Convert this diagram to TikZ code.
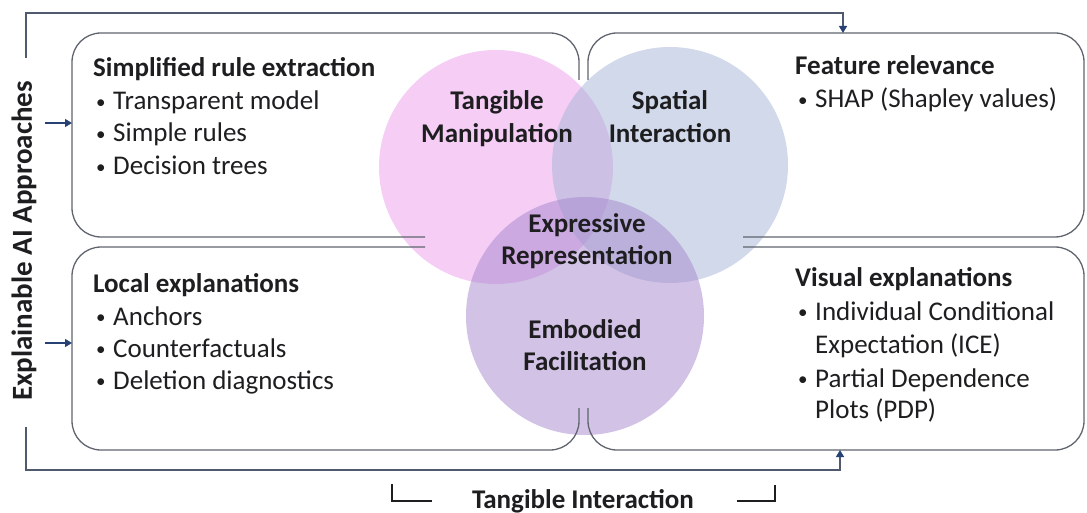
\documentclass[tikz,border=0pt]{standalone}
\usepackage{fontspec}
\setmainfont{Carlito}
\usetikzlibrary{arrows.meta}
\definecolor{ink}{RGB}{30,30,32}
\definecolor{boxgray}{RGB}{95,100,110}
\definecolor{conngray}{RGB}{80,90,110}
\definecolor{navy}{RGB}{40,65,115}
\definecolor{pinkc}{RGB}{235,155,235}
\definecolor{bluec}{RGB}{165,180,215}
\definecolor{purpc}{RGB}{165,135,205}
\newcommand{\blt}{\raisebox{1.5pt}{\fontsize{19}{19}\selectfont •}}
\tikzset{
  txt/.style={anchor=base west, inner sep=0pt, text=ink, font=\fontsize{27}{30}\selectfont},
  head/.style={txt, font=\fontsize{27}{30}\selectfont\bfseries},
  ctext/.style={anchor=base, inner sep=0pt, text=ink, font=\fontsize{27}{30}\selectfont\bfseries},
  boxln/.style={draw=boxgray, line width=1.3pt, rounded corners=29pt},
  connln/.style={draw=conngray, line width=1.5pt},
  tip/.style={-{Triangle[width=8pt,length=7pt,color=navy]}},
  venn/.style={circle, inner sep=0pt, draw=none, fill opacity=0.5},
}
\begin{document}
\begin{tikzpicture}[x=1pt,y=-1pt]
\useasboundingbox (0,0) rectangle (1087,513);

% Venn circles
\node[venn, fill=pinkc, minimum size=234pt] (tm) at (496,167) {};
\node[venn, fill=bluec, minimum size=236pt] (si) at (670,165) {};
\node[venn, fill=purpc, minimum size=238pt] (ef) at (585,316) {};

% boxes (visible parts)
\draw[boxln] (425,237) -| (72,33) -| (579,80);
\draw[boxln] (588,80) |- (1084,33) |- (743,237);
\draw[boxln] (425,247) -| (72,450) -| (579,408);
\draw[boxln] (588,408) |- (1084,450) |- (743,247);

% connectors
\coordinate (ltop) at (26,58);
\coordinate (trin) at (843,33);
\draw[connln, tip] (ltop) |- (843,13) -- (trin);
\coordinate (lbot) at (26,427);
\coordinate (brin) at (840,450);
\draw[connln, tip] (lbot) |- (840,470) -- (brin);
\coordinate (a1s) at (45,123);
\coordinate (a1e) at (72,123);
\draw[draw=navy, line width=1.3pt, tip] (a1s) -- (a1e);
\coordinate (a2s) at (45,343);
\coordinate (a2e) at (72,343);
\draw[draw=navy, line width=1.3pt, tip] (a2s) -- (a2e);

% bracket
\coordinate (bl1) at (392,484);
\coordinate (bl2) at (432,501);
\coordinate (br1) at (737,501);
\coordinate (br2) at (775,485);
\draw[draw=ink, line width=1.4pt] (bl1) |- (bl2);
\draw[draw=ink, line width=1.4pt] (br1) -| (br2);
\node[ctext] (ti) at (583,508) {Tangible Interaction};

% side label
\node[anchor=center, rotate=90, inner sep=0pt, text=ink, font=\fontsize{29}{30}\selectfont\bfseries] (xai) at (24,241) {Explainable AI Approaches};

% circle labels
\node[ctext] (c1a) at (497,110) {Tangible};
\node[ctext] (c1b) at (497,143) {Manipulation};
\node[ctext] (c2a) at (670,110) {Spatial};
\node[ctext] (c2b) at (670,143) {Interaction};
\node[ctext] (c3a) at (587,233) {Expressive};
\node[ctext] (c3b) at (587,265) {Representation};
\node[ctext] (c4a) at (585,338) {Embodied};
\node[ctext] (c4b) at (585,370) {Facilitation};

% top-left box
\node[head] (h1) at (93,77) {Simplified rule extraction};
\node[txt] (b1a) at (96,110) {\blt};
\node[txt] (t1a) at (113,110) {Transparent model};
\node[txt] (b1b) at (96,142) {\blt};
\node[txt] (t1b) at (113,142) {Simple rules};
\node[txt] (b1c) at (96,175) {\blt};
\node[txt] (t1c) at (113,175) {Decision trees};

% top-right box
\node[head] (h2) at (795,75) {Feature relevance};
\node[txt] (b2a) at (798,108) {\blt};
\node[txt] (t2a) at (815,108) {SHAP (Shapley values)};

% bottom-left box
\node[head] (h3) at (93,292) {Local explanations};
\node[txt] (b3a) at (96,325) {\blt};
\node[txt] (t3a) at (113,325) {Anchors};
\node[txt] (b3b) at (96,357) {\blt};
\node[txt] (t3b) at (113,357) {Counterfactuals};
\node[txt] (b3c) at (96,389) {\blt};
\node[txt] (t3c) at (113,389) {Deletion diagnostics};

% bottom-right box
\node[head] (h4) at (795,287) {Visual explanations};
\node[txt] (b4a) at (798,320) {\blt};
\node[txt] (t4a) at (815,320) {Individual Conditional};
\node[txt] (t4b) at (815,353) {Expectation (ICE)};
\node[txt] (b4b) at (798,387) {\blt};
\node[txt] (t4c) at (815,387) {Partial Dependence};
\node[txt] (t4d) at (815,418) {Plots (PDP)};
\end{tikzpicture}
\end{document}
